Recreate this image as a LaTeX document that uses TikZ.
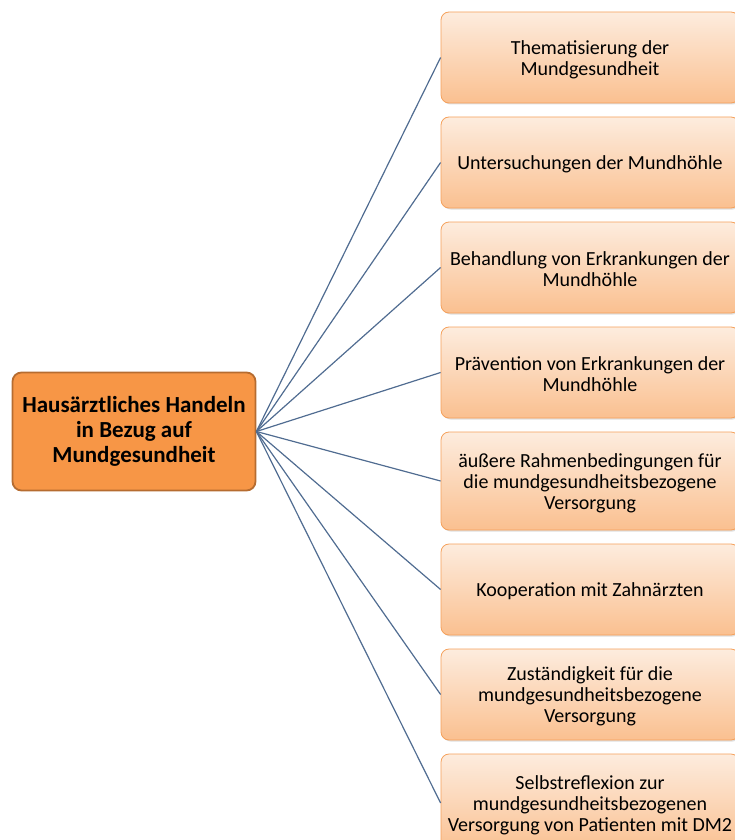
\documentclass[tikz,border=0pt]{standalone}
\usepackage{fontspec}
\setmainfont{Carlito}
\usetikzlibrary{shadows}
\definecolor{boxtop}{RGB}{253,236,222}
\definecolor{boxbot}{RGB}{250,192,144}
\definecolor{boxedge}{RGB}{245,160,90}
\definecolor{rootfill}{RGB}{247,150,70}
\definecolor{rootedge}{RGB}{182,108,48}
\definecolor{linkcol}{RGB}{80,108,145}
\tikzset{
  leaf/.style={draw=boxedge, line width=0.8pt, rounded corners=8pt, top color=boxtop, bottom color=boxbot,
    minimum width=298pt, inner sep=0pt,
    drop shadow={shadow xshift=1.5pt, shadow yshift=-1.5pt, fill=black!25, opacity=0.5}},
  leaftext/.style={align=center, inner sep=0pt, font=\fontsize{20}{21}\selectfont, text=black, yshift=-2pt},
  rootbox/.style={draw=rootedge, line width=1.8pt, rounded corners=9pt, fill=rootfill,
    minimum width=243pt, minimum height=118pt, align=center,
    font=\fontsize{23}{25}\selectfont\bfseries, text=black},
  link/.style={draw=linkcol, line width=1.2pt}
}
\begin{document}
\begin{tikzpicture}[x=1pt,y=-1pt]
\useasboundingbox (0,0) rectangle (735,840);
\clip (0,0) rectangle (735,840);
\node[rootbox] (root) at (134,431.5) {Hausärztliches Handeln\\in Bezug auf\\Mundgesundheit};
\node[leaf, minimum height=91pt] (b1) at (590,57.5) {};
\node[leaftext] (t1) at (b1.center) {Thematisierung der\\Mundgesundheit};
\node[leaf, minimum height=91pt] (b2) at (590,162.5) {};
\node[leaftext] (t2) at (b2.center) {Untersuchungen der Mundhöhle};
\node[leaf, minimum height=91pt] (b3) at (590,267.5) {};
\node[leaftext] (t3) at (b3.center) {Behandlung von Erkrankungen der\\Mundhöhle};
\node[leaf, minimum height=91pt] (b4) at (590,372.5) {};
\node[leaftext] (t4) at (b4.center) {Prävention von Erkrankungen der\\Mundhöhle};
\node[leaf, minimum height=98pt] (b5) at (590,481) {};
\node[leaftext] (t5) at (b5.center) {äußere Rahmenbedingungen für\\die mundgesundheitsbezogene\\Versorgung};
\node[leaf, minimum height=91pt] (b6) at (590,589.5) {};
\node[leaftext] (t6) at (b6.center) {Kooperation mit Zahnärzten};
\node[leaf, minimum height=91pt] (b7) at (590,694.5) {};
\node[leaftext] (t7) at (b7.center) {Zuständigkeit für die\\mundgesundheitsbezogene\\Versorgung};
\node[leaf, minimum height=98pt] (b8) at (590,803) {};
\node[leaftext] (t8) at (b8.center) {Selbstreflexion zur\\mundgesundheitsbezogenen\\Versorgung von Patienten mit DM2};
\foreach \b in {b1,b2,b3,b4,b5,b6,b7,b8}
  \draw[link] (root.east) -- (\b.west);
\end{tikzpicture}
\end{document}
